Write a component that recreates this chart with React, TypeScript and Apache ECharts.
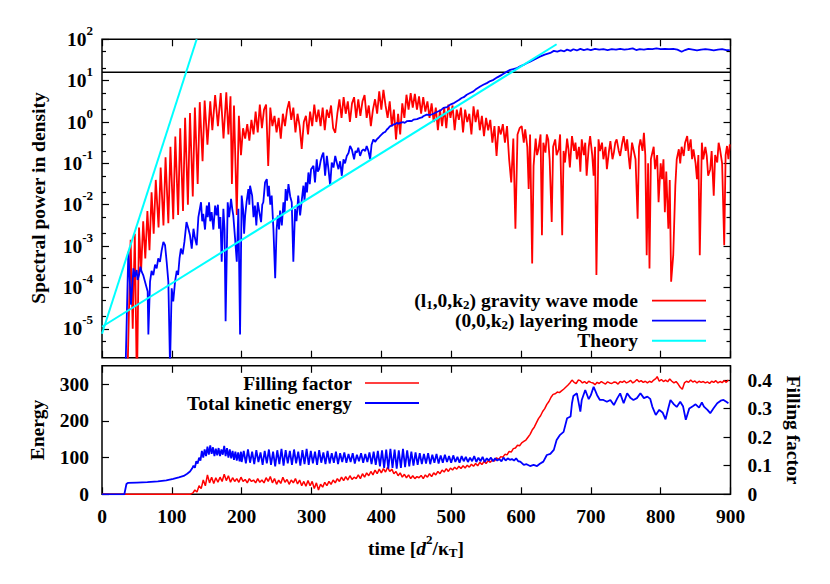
import React, { useEffect, useRef } from 'react';
import * as echarts from 'echarts';

const FONT = '"Liberation Serif", "Times New Roman", Times, serif';

// ---------- tick positions ----------
const timeTicks = [0, 100, 200, 300, 400, 500, 600, 700, 800, 900];
const powerMajorTicks = [1e-5, 1e-4, 1e-3, 1e-2, 1e-1, 1, 10, 100];
const powerMinorTicks = [5e-6, 2e-5, 5e-5, 2e-4, 5e-4, 2e-3, 5e-3, 2e-2, 5e-2, 0.2, 0.5, 2, 5, 20, 50];
const energyTicks = [0, 100, 200, 300];
const fillingTicks = [0, 0.1, 0.2, 0.3, 0.4];

// ---------- top panel: [time, log10(spectral power)] ----------
const gravityWaveLog10: [number, number][] = [
  [36, -6.5], [41, -2.85], [44, -5.0], [47, -2.7], [50, -6.5], [53, -2.55], [56, -3.6], [59, -2.4], [62, -3.3], [65, -2.15],
  [68, -3.1], [71, -1.7], [74, -2.7], [77, -1.4], [81, -2.55], [84, -1.1], [88, -2.5], [91, -0.85], [95, -2.45], [98, -0.6],
  [102, -2.35], [105, -0.35], [109, -2.25], [112, -0.15], [116, -2.15], [119, 0.1], [123, -2.0], [126, 0.22], [130, -1.8], [133, 0.35],
  [137, -1.5], [140, 0.48], [144, -0.95], [147, 0.52], [151, -0.55], [155, 0.5], [158, -0.2], [162, 0.65], [166, -0.1], [170, 0.7],
  [174, -0.4], [178, 0.72], [181, -0.3], [184, 0.62], [186, -1.5], [189, 0.4], [193, -2.25], [196, 0.15], [199, -0.8], [202, -0.15],
  [205, -0.4], [208, -0.05], [211, -0.45], [214, 0.05], [217, -0.3], [220, 0.25], [223, -0.25], [226, 0.42], [229, -0.15], [232, 0.3],
  [235, 0.42], [238, -1.06], [241, 0.35], [244, -0.1], [247, 0.15], [250, -0.25], [253, 0.1], [256, -0.4], [259, 0.2], [262, -0.1],
  [265, 0.3], [268, 0.5], [271, 0.05], [274, 0.35], [277, -0.25], [280, 0.2], [283, -0.1], [286, -0.65], [289, 0.0], [292, 0.15],
  [295, -0.3], [298, 0.25], [301, -0.1], [304, 0.42], [307, 0.0], [310, 0.3], [313, -0.1], [316, 0.35], [319, -0.2], [322, 0.3],
  [325, 0.1], [328, 0.4], [331, -0.15], [334, -0.26], [337, 0.2], [340, 0.55], [343, 0.1], [346, 0.6], [349, 0.2], [352, 0.5],
  [355, 0.0], [358, 0.45], [361, 0.6], [364, 0.1], [367, 0.55], [370, 0.15], [373, 0.5], [376, 0.65], [379, 0.1], [382, 0.4],
  [385, -0.1], [388, 0.3], [391, 0.55], [394, 0.2], [397, 0.74], [400, 0.3], [403, 0.78], [406, 0.4], [409, 0.1], [412, 0.5],
  [415, -0.1], [418, 0.3], [421, -0.42], [424, 0.2], [427, -0.3], [430, 0.45], [433, 0.1], [436, 0.66], [439, 0.3], [442, 0.7],
  [445, 0.35], [448, 0.68], [451, 0.3], [454, 0.62], [457, 0.2], [460, 0.6], [463, 0.25], [466, 0.5], [469, 0.1], [472, 0.45],
  [475, 0.0], [478, 0.35], [481, -0.2], [484, 0.3], [487, -0.1], [490, 0.35], [493, -0.15], [496, 0.42], [499, 0.1], [502, 0.4],
  [505, -0.2], [508, 0.3], [511, 0.05], [514, 0.35], [517, -0.25], [520, 0.3], [523, 0.0], [526, 0.2], [529, -0.3], [532, 0.38],
  [535, 0.0], [538, 0.3], [541, -0.2], [544, 0.15], [547, -0.34], [550, 0.1], [553, -0.2], [556, 0.05], [559, -0.5], [562, -0.1],
  [565, -0.82], [568, -0.1], [571, -0.3], [574, -0.05], [577, -0.5], [580, -0.1], [583, -0.9], [586, -1.46], [589, -0.4], [592, -2.58],
  [595, -0.3], [598, -0.15], [601, -0.1], [604, -0.5], [606, -0.18], [609, -0.6], [611, -1.62], [613, -0.3], [616, -3.42], [618, -1.06],
  [621, -0.4], [623, -0.8], [625, -0.66], [628, -0.3], [630, -2.74], [632, -0.5], [635, -0.74], [637, -0.3], [639, -0.42], [641, -0.9],
  [644, -2.42], [646, -0.6], [649, -0.42], [651, -0.8], [654, -0.66], [656, -0.3], [659, -2.74], [661, -0.7], [663, -0.98], [666, -0.4],
  [668, -0.66], [670, -1.1], [673, -0.34], [676, -0.7], [678, -0.5], [680, -0.9], [683, -0.6], [685, -1.2], [687, -0.42], [690, -0.8],
  [692, -0.5], [694, -1.3], [697, -0.6], [699, -0.34], [702, -0.8], [704, -1.3], [706, -0.6], [708, -3.7], [711, -0.42], [713, -0.7],
  [716, -0.5], [718, -0.9], [721, -0.6], [723, -1.14], [726, -0.7], [728, -0.46], [731, -0.9], [733, -0.74], [735, -0.5], [737, -0.42],
  [740, -0.7], [742, -0.82], [745, -0.5], [747, -0.34], [750, -0.7], [752, -0.42], [754, -0.8], [756, -1.14], [759, -0.5], [761, -0.66],
  [764, -0.9], [767, -2.34], [769, -0.6], [771, -0.42], [774, -0.7], [776, -0.26], [778, -0.8], [780, -3.22], [782, -1.0], [784, -3.54],
  [786, -0.9], [787, -0.82], [790, -0.6], [792, -1.14], [795, -0.8], [797, -1.94], [800, -1.0], [802, -1.38], [804, -0.9], [806, -2.18],
  [808, -1.2], [811, -2.58], [813, -1.4], [815, -3.86], [818, -3.22], [821, -1.54], [823, -0.9], [826, -0.66], [828, -1.0], [830, -0.6],
  [833, -0.82], [835, -0.5], [838, -0.34], [840, -0.7], [843, -0.42], [845, -0.9], [847, -0.66], [850, -1.0], [852, -1.38], [854, -0.8],
  [856, -3.22], [859, -0.5], [861, -0.9], [864, -0.6], [866, -0.82], [868, -1.3], [871, -1.14], [873, -0.7], [876, -1.78], [878, -0.8],
  [881, -0.98], [883, -0.5], [885, -0.66], [888, -1.0], [891, -2.98], [893, -0.8], [895, -0.58], [897, -0.9], [899, -0.54],
];

const layeringLog10: [number, number][] = [
  [33, -6.5], [37.7, -3.14], [41.5, -4.42], [45, -3.54], [47, -3.75], [49.6, -3.58], [51, -3.82], [53, -3.7], [55, -3.5], [56.8, -3.62],
  [59, -3.7], [61.6, -3.86], [65.4, -4.1], [66.4, -5.14], [68.8, -3.86], [71, -3.6], [73.5, -3.7], [76, -3.45], [78.3, -3.54], [80.5, -3.3],
  [83, -3.38], [85.5, -3.1], [87.9, -2.9], [90.3, -2.98], [92.6, -3.38], [95, -3.86], [97.4, -5.9], [99.8, -4.02], [102, -4.34], [104.6, -3.86],
  [107, -3.6], [109, -3.7], [111, -3.3], [113, -3.06], [115.5, -3.2], [118, -2.9], [121, -2.42], [123.7, -2.58], [126, -2.74], [128.5, -3.06],
  [131, -2.58], [133, -2.8], [135.6, -2.98], [138, -2.3], [141.8, -1.94], [143.5, -2.4], [145, -2.22], [147.5, -2.6], [150, -2.02], [151.5, -2.3],
  [153.3, -1.94], [155, -2.4], [157, -2.18], [159.5, -2.6], [162, -2.02], [164, -2.26], [166, -2.0], [167.6, -2.58], [169.5, -2.3], [171.4, -3.38],
  [173.8, -2.1], [175.5, -2.6], [177, -4.82], [180, -1.94], [182, -2.3], [184.8, -1.86], [186.5, -2.1], [188, -2.26], [190.5, -2.8], [193, -3.38],
  [195.3, -2.1], [197.7, -5.14], [200, -1.78], [202, -2.1], [203.5, -2.7], [205, -2.26], [207, -1.94], [209.6, -1.62], [211, -2.0], [212, -1.54],
  [215, -1.78], [217, -2.3], [219, -2.02], [221, -2.5], [223, -1.94], [225.5, -2.2], [227.8, -2.42], [229.5, -2.0], [231, -1.94], [233.5, -1.46],
  [236, -1.38], [237.5, -1.8], [239, -1.54], [241, -2.0], [243, -1.78], [245.5, -2.6], [248, -3.78], [250, -2.6], [251.7, -2.26], [253.5, -2.6],
  [255, -2.14], [257.5, -2.5], [259.8, -1.94], [261.5, -2.2], [263, -1.62], [265, -1.9], [267, -1.5], [269.5, -1.8], [271.7, -1.94], [274, -3.38],
  [276.5, -2.1], [278.5, -2.4], [281, -1.78], [283.7, -2.26], [286, -1.9], [288.4, -1.54], [290, -1.9], [291.8, -1.46], [293.5, -1.7], [295.6, -1.22],
  [297.5, -1.5], [299.4, -1.14], [302.8, -1.06], [305, -1.46], [307.5, -0.9], [309, -1.2], [311, -1.14], [313, -0.95], [315, -0.82], [317, -0.74],
  [319.5, -1.3], [322, -0.82], [324.3, -1.14], [326.7, -1.54], [329, -0.98], [331.5, -1.1], [334, -0.82], [336.5, -1.0], [338.6, -1.14], [341, -0.95],
  [343.4, -1.3], [345.8, -0.9], [348, -1.0], [350.5, -0.82], [353, -0.75], [355.3, -0.58], [357.7, -0.66], [361, -0.9], [363, -0.7], [365, -0.74],
  [367, -0.62], [369.6, -0.82], [372, -0.7], [374.4, -0.66], [377, -0.7], [379, -0.58], [381.5, -0.7], [384, -0.9], [386, -0.55], [388.7, -0.42],
  [391, -0.48], [393.5, -0.42], [396, -0.38], [398, -0.34], [400.5, -0.3], [403, -0.26], [405.5, -0.24], [408, -0.18], [410, -0.15], [412.6, -0.1],
  [415, -0.09], [417.4, -0.06], [420, -0.05], [422, -0.02], [424.5, -0.04], [427, -0.02], [431, 0.0], [433.5, -0.02], [436.5, 0.02], [441, 0.03],
  [443.5, 0.02], [446, 0.06], [451, 0.07], [455.5, 0.1], [458, 0.11], [460, 0.14], [465, 0.18], [470, 0.17], [474.7, 0.2], [478, 0.23],
  [481.8, 0.26], [485, 0.28], [489, 0.34], [494, 0.36], [498.6, 0.42], [503, 0.45], [508, 0.5], [511, 0.53], [515, 0.58], [518, 0.6],
  [522.3, 0.66], [527, 0.7], [531.9, 0.74], [536, 0.8], [541.5, 0.86], [546, 0.9], [551, 0.94], [556, 0.99], [560.6, 1.02], [566, 1.08],
  [572.5, 1.14], [578, 1.2], [584.5, 1.26], [589, 1.28], [594, 1.3], [598, 1.34], [603.6, 1.38], [608, 1.42], [613, 1.46], [620, 1.52],
  [627, 1.58], [634, 1.63], [642, 1.67], [647, 1.72], [652, 1.7], [657, 1.73], [662, 1.71], [666, 1.75], [671, 1.72], [675, 1.76],
  [680, 1.73], [685, 1.77], [690, 1.74], [695, 1.76], [700, 1.74], [706, 1.77], [712, 1.75], [718, 1.76], [724, 1.74], [730, 1.76],
  [736, 1.75], [742, 1.77], [748, 1.75], [754, 1.76], [760, 1.78], [765, 1.74], [770, 1.76], [776, 1.75], [782, 1.77], [788, 1.76],
  [794, 1.78], [800, 1.76], [806, 1.77], [812, 1.76], [818, 1.77], [824, 1.75], [830, 1.7], [835, 1.74], [840, 1.77], [846, 1.75],
  [852, 1.73], [858, 1.75], [864, 1.76], [870, 1.75], [876, 1.73], [882, 1.75], [888, 1.76], [894, 1.74], [899, 1.74],
];

const theorySteepLog10: [number, number][] = [[0, -5.12], [135.6, 2]];
const theoryShallowLog10: [number, number][] = [[0, -4.95], [651, 1.88]];
const thresholdPower = 16;

// ---------- bottom panel ----------
const kineticEnergy: [number, number][] = [
  [0, 0], [32, 0], [35, 28], [37, 31], [50, 32], [65, 33], [80, 35], [92, 38], [102, 42], [110, 46],
  [117, 50], [122, 56], [126, 62], [129, 70], [131, 78], [133, 72], [135, 90], [137, 84], [139, 100], [141, 92],
  [143, 118], [145, 100], [147, 122], [149, 104], [151, 130], [153, 108], [155, 133], [157, 110], [159, 128], [161, 104],
  [163, 124], [165, 106], [167, 126], [169, 104], [171, 122], [173, 108], [175, 132], [177, 104], [179, 126], [181, 100],
  [183, 122], [185, 98], [187, 118], [189, 94], [191, 116], [193, 92], [195, 114], [197, 90], [199, 116], [200, 88],
  [203, 118], [206, 84], [209, 122], [212, 86], [215, 116], [218, 82], [221, 120], [224, 88], [227, 114], [230, 80],
  [233, 118], [236, 84], [239, 122], [242, 80], [245, 116], [248, 76], [251, 120], [254, 82], [257, 124], [260, 78],
  [263, 120], [266, 84], [269, 118], [272, 80], [275, 122], [278, 84], [281, 116], [284, 78], [287, 120], [290, 82],
  [293, 124], [296, 80], [299, 118], [302, 84], [305, 116], [308, 80], [311, 120], [314, 86], [317, 114], [320, 82],
  [323, 118], [326, 84], [329, 112], [332, 86], [335, 116], [338, 82], [341, 112], [344, 88], [347, 114], [350, 86],
  [353, 110], [356, 88], [359, 112], [362, 84], [365, 108], [368, 90], [371, 112], [374, 86], [377, 110], [380, 88],
  [383, 114], [386, 82], [389, 116], [392, 80], [395, 118], [398, 76], [401, 120], [404, 72], [407, 122], [410, 70],
  [413, 124], [416, 72], [419, 122], [422, 70], [425, 120], [428, 72], [431, 124], [434, 74], [437, 120], [440, 76],
  [443, 116], [446, 78], [449, 114], [452, 80], [455, 112], [458, 82], [461, 110], [464, 84], [467, 112], [470, 82],
  [473, 108], [476, 86], [479, 110], [482, 84], [485, 106], [488, 86], [491, 108], [494, 88], [497, 104], [500, 86],
  [503, 106], [506, 88], [509, 102], [512, 86], [515, 104], [518, 90], [521, 102], [524, 88], [527, 100], [530, 90],
  [533, 104], [536, 88], [539, 100], [542, 90], [545, 102], [548, 88], [551, 98], [554, 92], [557, 100], [560, 90],
  [563, 98], [566, 92], [569, 96], [572, 90], [575, 100], [578, 92], [581, 98], [584, 94], [587, 96], [590, 92],
  [593, 98], [596, 90], [599, 89], [604, 80], [608, 82], [613, 77], [618, 80], [623, 77], [627, 83], [632, 89],
  [637, 107], [642, 110], [647, 121], [651, 148], [656, 162], [661, 170], [666, 207], [671, 212], [673, 248], [675, 268],
  [680, 275], [685, 225], [687, 257], [692, 284], [697, 259], [700, 270], [704, 293], [709, 270], [713, 257], [718, 257],
  [723, 252], [728, 257], [733, 243], [738, 262], [742, 275], [747, 248], [752, 275], [757, 262], [761, 257], [766, 262],
  [771, 275], [776, 262], [781, 266], [785, 260], [788, 239], [793, 216], [798, 230], [803, 222], [807, 204], [811, 235],
  [814, 257], [819, 245], [823, 238], [828, 252], [832, 240], [836, 203], [841, 234], [846, 240], [850, 245], [855, 236],
  [859, 250], [862, 239], [867, 230], [871, 221], [876, 235], [881, 248], [886, 255], [890, 257], [894, 252], [897, 248],
];

const fillingFactor: [number, number][] = [
  [0, 0], [126, 0], [130, 0.004], [133, 0.015], [136, 0.008], [139, 0.03], [142, 0.02], [145, 0.05], [148, 0.03], [151, 0.068],
  [154, 0.04], [157, 0.06], [160, 0.038], [163, 0.058], [166, 0.042], [169, 0.06], [172, 0.045], [175, 0.07], [178, 0.048], [181, 0.065],
  [184, 0.042], [187, 0.058], [190, 0.045], [193, 0.055], [196, 0.042], [199, 0.06], [202, 0.045], [205, 0.052], [208, 0.04], [211, 0.055],
  [214, 0.045], [217, 0.05], [220, 0.04], [223, 0.055], [226, 0.042], [229, 0.05], [232, 0.04], [235, 0.058], [238, 0.045], [241, 0.062],
  [244, 0.04], [247, 0.055], [250, 0.035], [253, 0.05], [256, 0.038], [259, 0.06], [262, 0.042], [265, 0.052], [268, 0.035], [271, 0.05],
  [274, 0.04], [277, 0.055], [280, 0.036], [283, 0.05], [286, 0.03], [289, 0.045], [292, 0.028], [295, 0.048], [298, 0.03], [301, 0.045],
  [304, 0.02], [307, 0.04], [310, 0.015], [313, 0.035], [316, 0.025], [319, 0.042], [322, 0.03], [325, 0.045], [328, 0.035], [331, 0.05],
  [334, 0.04], [337, 0.055], [340, 0.045], [343, 0.06], [346, 0.048], [349, 0.062], [352, 0.05], [355, 0.065], [358, 0.052], [361, 0.06],
  [364, 0.055], [367, 0.068], [370, 0.055], [373, 0.072], [376, 0.06], [379, 0.075], [382, 0.065], [385, 0.08], [388, 0.068], [391, 0.085],
  [394, 0.072], [397, 0.088], [400, 0.075], [403, 0.09], [406, 0.078], [409, 0.095], [412, 0.08], [415, 0.088], [418, 0.072], [421, 0.08],
  [424, 0.065], [427, 0.075], [430, 0.06], [433, 0.07], [436, 0.058], [439, 0.068], [442, 0.055], [445, 0.065], [448, 0.055], [451, 0.062],
  [454, 0.058], [457, 0.066], [460, 0.055], [463, 0.068], [466, 0.06], [469, 0.072], [472, 0.062], [475, 0.075], [478, 0.068], [481, 0.08],
  [484, 0.072], [487, 0.085], [490, 0.078], [493, 0.09], [496, 0.08], [499, 0.092], [502, 0.085], [505, 0.095], [508, 0.088], [511, 0.098],
  [514, 0.09], [517, 0.1], [520, 0.092], [523, 0.102], [526, 0.095], [529, 0.105], [532, 0.098], [535, 0.108], [538, 0.1], [541, 0.112],
  [544, 0.104], [547, 0.115], [550, 0.108], [553, 0.118], [556, 0.112], [559, 0.12], [562, 0.116], [565, 0.128], [568, 0.122], [571, 0.132],
  [574, 0.13], [577, 0.14], [580, 0.138], [583, 0.15], [586, 0.148], [589, 0.16], [592, 0.162], [595, 0.172], [598, 0.17], [601, 0.18],
  [604, 0.185], [607, 0.19], [610, 0.2], [613, 0.21], [616, 0.225], [619, 0.235], [622, 0.25], [625, 0.265], [628, 0.275], [631, 0.29],
  [634, 0.3], [637, 0.315], [640, 0.325], [643, 0.34], [646, 0.35], [649, 0.352], [652, 0.358], [655, 0.356], [658, 0.362], [661, 0.368],
  [664, 0.375], [667, 0.382], [670, 0.39], [673, 0.4], [676, 0.392], [679, 0.388], [682, 0.4], [685, 0.398], [688, 0.39], [691, 0.395],
  [694, 0.388], [697, 0.396], [700, 0.392], [703, 0.39], [706, 0.384], [709, 0.392], [712, 0.388], [715, 0.395], [718, 0.39], [721, 0.386],
  [724, 0.394], [727, 0.39], [730, 0.388], [733, 0.393], [736, 0.392], [739, 0.386], [742, 0.395], [745, 0.392], [748, 0.397], [751, 0.39],
  [754, 0.394], [757, 0.399], [760, 0.39], [763, 0.395], [766, 0.402], [769, 0.394], [772, 0.398], [775, 0.392], [778, 0.396], [781, 0.39],
  [784, 0.396], [787, 0.392], [790, 0.4], [793, 0.405], [795, 0.412], [798, 0.396], [801, 0.402], [804, 0.395], [807, 0.4], [810, 0.394],
  [813, 0.404], [816, 0.396], [819, 0.39], [822, 0.395], [825, 0.386], [828, 0.375], [831, 0.368], [834, 0.39], [837, 0.396], [840, 0.392],
  [843, 0.4], [846, 0.393], [849, 0.397], [852, 0.39], [855, 0.396], [858, 0.392], [861, 0.395], [864, 0.39], [867, 0.394], [870, 0.388],
  [873, 0.396], [876, 0.392], [879, 0.398], [882, 0.39], [885, 0.395], [888, 0.391], [891, 0.398], [894, 0.392], [897, 0.4],
];

const RED = '#ff0000';
const BLUE = '#0000ff';
const CYAN = '#00ffff';

const toPower = (arr: [number, number][]) => arr.map(([t, e]) => [t, Math.pow(10, e)]);

const baseFont = { fontFamily: FONT, fontWeight: 'bold' as const, color: '#000' };

const tickStyle = (len: number) => ({
  show: true,
  inside: true,
  length: len,
  lineStyle: { color: '#000', width: 1.2 },
});

function buildOption(): any {
  const xCommon = (gridIndex: number, position: 'top' | 'bottom', labels: boolean) => ({
    type: 'value',
    gridIndex,
    position,
    min: 0,
    max: 900,
    interval: 100,
    axisLine: { show: false, onZero: false },
    axisTick: { ...tickStyle(7), customValues: timeTicks },
    axisLabel: labels
      ? { show: true, ...baseFont, fontSize: 19.5, margin: 12, customValues: timeTicks }
      : { show: false },
    splitLine: { show: false },
  });

  const supRich = {
    b: { ...baseFont, fontSize: 19.5, lineHeight: 31 },
    s: { ...baseFont, fontSize: 13, lineHeight: 13, padding: [0, 0, 18, 0] },
  };

  const logAxis = (position: 'left' | 'right', ticks: number[], len: number, labels: boolean) => ({
    type: 'log',
    logBase: 10,
    gridIndex: 0,
    position,
    min: 2e-6,
    max: 100,
    axisLine: { show: false, onZero: false },
    axisTick: { ...tickStyle(len), customValues: ticks },
    minorTick: { show: false },
    axisLabel: labels
      ? {
          show: true,
          margin: 9,
          customValues: ticks,
          formatter: (v: number) => `{b|10}{s|${Math.round(Math.log10(v))}}`,
          rich: supRich,
        }
      : { show: false },
    splitLine: { show: false },
  });

  const legendRich = {
    b: { ...baseFont, fontSize: 19.5, lineHeight: 19 },
    s: { ...baseFont, fontSize: 13, lineHeight: 12, padding: [7, 0, 0, 0] },
  };

  const textEl = (x: number, y: number, text: string, opts: any = {}) => ({
    type: 'text',
    x,
    y,
    rotation: opts.rotation || 0,
    style: {
      text,
      fontFamily: FONT,
      fontWeight: 'bold',
      fontSize: 19.5,
      fill: '#000',
      align: opts.align || 'center',
      verticalAlign: 'middle',
      rich: opts.rich,
    },
  });

  const lineEl = (x1: number, x2: number, y: number, color: string, width: number) => ({
    type: 'line',
    shape: { x1, y1: y, x2, y2: y },
    style: { stroke: color, lineWidth: width },
  });

  return {
    animation: false,
    backgroundColor: '#fff',
    textStyle: { fontFamily: FONT },
    grid: [
      { left: 102, top: 39.3, width: 628.5, height: 318.4, show: true, borderColor: '#000', borderWidth: 1.5, backgroundColor: 'transparent', containLabel: false },
      { left: 102, top: 365.8, width: 628.5, height: 128.5, show: true, borderColor: '#000', borderWidth: 1.5, backgroundColor: 'transparent', containLabel: false },
    ],
    xAxis: [
      xCommon(0, 'bottom', false),
      xCommon(0, 'top', false),
      xCommon(1, 'bottom', true),
      xCommon(1, 'top', false),
    ],
    yAxis: [
      logAxis('left', powerMajorTicks, 7, true),
      logAxis('right', powerMajorTicks, 7, false),
      logAxis('left', powerMinorTicks, 4, false),
      logAxis('right', powerMinorTicks, 4, false),
      {
        type: 'value',
        gridIndex: 1,
        position: 'left',
        min: 0,
        max: 350,
        axisLine: { show: false, onZero: false },
        axisTick: { ...tickStyle(7), customValues: energyTicks },
        axisLabel: { show: true, ...baseFont, fontSize: 19.5, margin: 13, customValues: energyTicks },
        splitLine: { show: false },
      },
      {
        type: 'value',
        gridIndex: 1,
        position: 'right',
        min: 0,
        max: 0.45,
        axisLine: { show: false, onZero: false },
        axisTick: { ...tickStyle(7), customValues: fillingTicks },
        axisLabel: {
          show: true,
          ...baseFont,
          fontSize: 19.5,
          margin: 17,
          customValues: fillingTicks,
          formatter: (v: number) => (v === 0 ? '0' : String(Math.round(v * 10) / 10)),
        },
        splitLine: { show: false },
      },
    ],
    series: [
      {
        name: 'threshold',
        type: 'line',
        xAxisIndex: 0,
        yAxisIndex: 0,
        showSymbol: false,
        silent: true,
        data: [[0, thresholdPower], [900, thresholdPower]],
        lineStyle: { color: '#000', width: 1.6 },
      },
      {
        name: 'gravity wave mode',
        type: 'line',
        xAxisIndex: 0,
        yAxisIndex: 0,
        showSymbol: false,
        clip: true,
        data: toPower(gravityWaveLog10),
        lineStyle: { color: RED, width: 1.8 },
      },
      {
        name: 'layering mode',
        type: 'line',
        xAxisIndex: 0,
        yAxisIndex: 0,
        showSymbol: false,
        clip: true,
        data: toPower(layeringLog10),
        lineStyle: { color: BLUE, width: 1.8 },
      },
      {
        name: 'Theory',
        type: 'line',
        xAxisIndex: 0,
        yAxisIndex: 0,
        showSymbol: false,
        clip: true,
        data: toPower(theorySteepLog10),
        lineStyle: { color: CYAN, width: 2 },
      },
      {
        name: 'Theory',
        type: 'line',
        xAxisIndex: 0,
        yAxisIndex: 0,
        showSymbol: false,
        clip: true,
        data: toPower(theoryShallowLog10),
        lineStyle: { color: CYAN, width: 2 },
      },
      {
        name: 'Filling factor',
        type: 'line',
        xAxisIndex: 2,
        yAxisIndex: 5,
        showSymbol: false,
        data: fillingFactor,
        lineStyle: { color: RED, width: 1.5 },
      },
      {
        name: 'Total kinetic energy',
        type: 'line',
        xAxisIndex: 2,
        yAxisIndex: 4,
        showSymbol: false,
        data: kineticEnergy,
        lineStyle: { color: BLUE, width: 1.8 },
      },
    ],
    graphic: [
      textEl(38, 198, 'Spectral power in density', { rotation: Math.PI / 2 }),
      textEl(37, 430, 'Energy', { rotation: Math.PI / 2 }),
      textEl(793, 430, 'Filling factor', { rotation: -Math.PI / 2 }),
      textEl(416, 548, '{b|time [}{i|d}{p|2}{b|/κ}{q|T}{b|]}', {
        rich: {
          b: { ...baseFont, fontSize: 19.5, lineHeight: 30 },
          i: { ...baseFont, fontSize: 19.5, lineHeight: 30, fontStyle: 'italic' },
          p: { ...baseFont, fontSize: 13, lineHeight: 13, padding: [0, 0, 17, 0] },
          q: { ...baseFont, fontSize: 13, lineHeight: 13, padding: [13, 0, 4, 0] },
        },
      }),
      // top legend
      textEl(638, 300.7, '{b|(l}{s|1}{b|,0,k}{s|2}{b|) gravity wave mode}', { align: 'right', rich: legendRich }),
      textEl(638, 320.7, '{b|(0,0,k}{s|2}{b|) layering mode}', { align: 'right', rich: legendRich }),
      textEl(638, 340.7, 'Theory', { align: 'right' }),
      lineEl(652, 706, 300.7, RED, 1.8),
      lineEl(652, 706, 320.7, BLUE, 1.8),
      lineEl(652, 706, 340.7, CYAN, 2),
      // bottom legend
      textEl(352, 383, 'Filling factor', { align: 'right' }),
      textEl(352, 403, 'Total kinetic energy', { align: 'right' }),
      lineEl(365, 419, 383, RED, 1.5),
      lineEl(365, 419, 403, BLUE, 1.8),
    ],
  };
}

export default function App() {
  const ref = useRef<HTMLDivElement>(null);
  useEffect(() => {
    if (!ref.current) return;
    const chart = echarts.init(ref.current, null, { renderer: 'svg' });
    chart.setOption(buildOption());
    return () => chart.dispose();
  }, []);
  return (
    <div
      ref={ref}
      style={{ position: 'fixed', left: 0, top: 0, width: 830, height: 584, background: '#fff' }}
    />
  );
}
